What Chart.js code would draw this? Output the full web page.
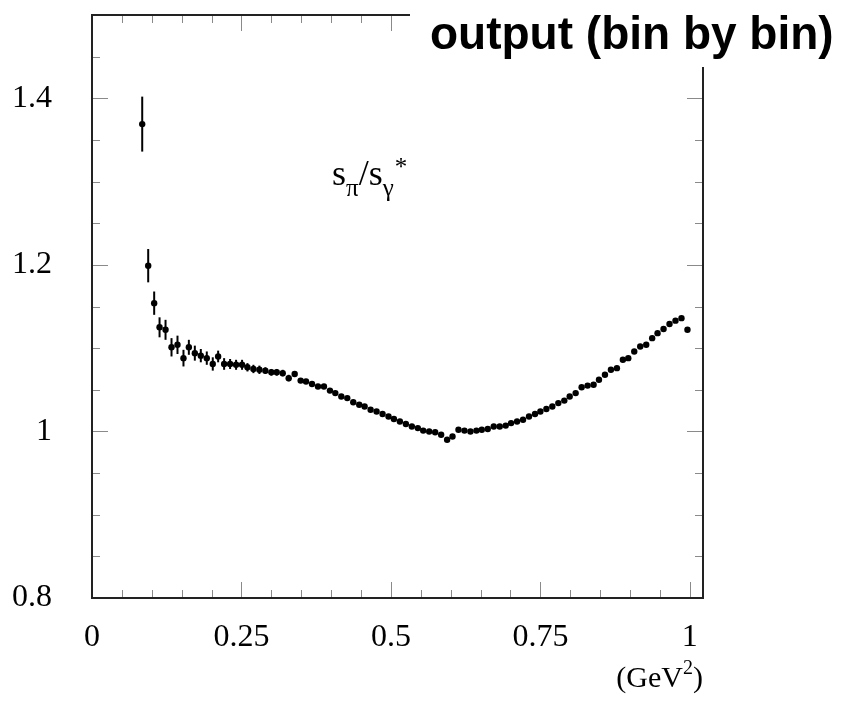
<!DOCTYPE html>
<html>
<head>
<meta charset="utf-8">
<script src="https://cdn.jsdelivr.net/npm/chart.js@4/dist/chart.umd.min.js"></script>
<style>
  html, body { margin: 0; padding: 0; background: #fff; }
  #wrap { width: 854px; height: 701px; }
</style>
</head>
<body>
<div id="wrap"><canvas id="c" width="854" height="701"></canvas></div>
<script>
// bin centres (GeV^2)
const xs = [
  0.084, 0.094, 0.104, 0.113, 0.123, 0.133, 0.143, 0.153, 0.162, 0.172,
  0.182, 0.192, 0.202, 0.211, 0.221, 0.231, 0.241, 0.251, 0.260, 0.270,
  0.280, 0.290, 0.300, 0.309, 0.319, 0.329, 0.339, 0.349, 0.358, 0.368,
  0.378, 0.388, 0.398, 0.407, 0.417, 0.427, 0.437, 0.447, 0.456, 0.466,
  0.476, 0.486, 0.496, 0.505, 0.515, 0.525, 0.535, 0.545, 0.554, 0.564,
  0.574, 0.584, 0.594, 0.603, 0.613, 0.623, 0.633, 0.643, 0.652, 0.662,
  0.672, 0.682, 0.692, 0.701, 0.711, 0.721, 0.731, 0.741, 0.750, 0.760,
  0.770, 0.780, 0.790, 0.799, 0.809, 0.819, 0.829, 0.839, 0.848, 0.858,
  0.868, 0.878, 0.888, 0.897, 0.907, 0.917, 0.927, 0.937, 0.946, 0.956,
  0.966, 0.976, 0.986, 0.996
];
// ratio s_pi / s_gamma*
const ratio = [
  1.369, 1.199, 1.154, 1.125, 1.122, 1.101, 1.104, 1.088, 1.101, 1.094,
  1.091, 1.088, 1.081, 1.090, 1.081, 1.081, 1.080, 1.080, 1.077, 1.075,
  1.074, 1.073, 1.071, 1.071, 1.070, 1.064, 1.069, 1.061, 1.060, 1.057,
  1.054, 1.054, 1.049, 1.046, 1.042, 1.040, 1.035, 1.032, 1.030, 1.026,
  1.024, 1.021, 1.018, 1.015, 1.012, 1.009, 1.006, 1.004, 1.001, 1.000,
  0.999, 0.996, 0.990, 0.994, 1.002, 1.001, 1.000, 1.001, 1.002, 1.003,
  1.006, 1.006, 1.007, 1.010, 1.012, 1.014, 1.018, 1.021, 1.024, 1.027,
  1.030, 1.034, 1.037, 1.042, 1.046, 1.053, 1.055, 1.056, 1.062, 1.068,
  1.074, 1.076, 1.086, 1.088, 1.096, 1.102, 1.104, 1.112, 1.118, 1.123,
  1.129, 1.133, 1.136, 1.122
];
// statistical errors
const errs = [
  0.033, 0.020, 0.014, 0.012, 0.012, 0.011, 0.011, 0.010, 0.009, 0.009,
  0.008, 0.008, 0.008, 0.007, 0.007, 0.006, 0.006, 0.006, 0.005, 0.005,
  0.005, 0.004, 0.004, 0.004, 0.004, 0.004, 0.003, 0.003, 0.003, 0.002,
  0.002, 0.002, 0.002, 0.002, 0.002, 0.002, 0.002, 0.002, 0.002, 0.002,
  0.002, 0.001, 0.001, 0.001, 0.001, 0.001, 0.001, 0.001, 0.001, 0.001,
  0.001, 0.001, 0.001, 0.001, 0.001, 0.001, 0.001, 0.001, 0.001, 0.001,
  0.001, 0.001, 0.001, 0.001, 0.001, 0.001, 0.001, 0.001, 0.001, 0.001,
  0.001, 0.001, 0.001, 0.001, 0.001, 0.001, 0.001, 0.001, 0.001, 0.001,
  0.001, 0.001, 0.001, 0.001, 0.001, 0.001, 0.001, 0.001, 0.001, 0.001,
  0.001, 0.001, 0.001, 0.001
];

const xTickValues = [0, 0.25, 0.5, 0.75, 1];
const xTickLabels = ['0', '0.25', '0.5', '0.75', '1'];
const yTickValues = [0.8, 1.0, 1.2, 1.4];
const yTickLabels = ['0.8', '1', '1.2', '1.4'];
const xMinor = [0, 0.05, 0.1, 0.15, 0.2, 0.25, 0.3, 0.35, 0.4, 0.45, 0.5, 0.55, 0.6, 0.65, 0.7, 0.75, 0.8, 0.85, 0.9, 0.95, 1];
const yMinor = [0.85, 0.9, 0.95, 1.0, 1.05, 1.1, 1.15, 1.2, 1.25, 1.3, 1.35, 1.4, 1.45];

const titleText = 'output (bin by bin)';
const unitText = 'GeV';

const serif = '"Liberation Serif", "Times New Roman", serif';
const sans = '"Liberation Sans", Arial, Helvetica, sans-serif';

const points = xs.map((x, i) => ({ x: x, y: ratio[i] }));

// vertical error bars, drawn under the markers
const errorBars = {
  id: 'errorBars',
  beforeDatasetsDraw(chart) {
    const { ctx, scales: { x, y } } = chart;
    ctx.save();
    ctx.strokeStyle = '#000';
    ctx.lineWidth = 2;
    xs.forEach((v, i) => {
      const px = x.getPixelForValue(v);
      ctx.beginPath();
      ctx.moveTo(px, y.getPixelForValue(ratio[i] - errs[i]));
      ctx.lineTo(px, y.getPixelForValue(ratio[i] + errs[i]));
      ctx.stroke();
    });
    ctx.restore();
  }
};

// ROOT style frame with inward ticks, title box and text
const frame = {
  id: 'frame',
  afterDraw(chart) {
    const { ctx, chartArea: a, scales: { x, y } } = chart;
    ctx.save();
    // ticks
    ctx.strokeStyle = '#8a8a8a';
    ctx.lineWidth = 1;
    xMinor.forEach(v => {
      const px = Math.round(x.getPixelForValue(v)) + 0.5;
      const len = (Math.abs(v * 4 - Math.round(v * 4)) < 1e-6) ? 16 : 8;
      ctx.beginPath();
      ctx.moveTo(px, a.bottom); ctx.lineTo(px, a.bottom - len);
      ctx.moveTo(px, a.top); ctx.lineTo(px, a.top + len);
      ctx.stroke();
    });
    yMinor.forEach(v => {
      const py = Math.round(y.getPixelForValue(v)) + 0.5;
      const len = (Math.abs(v * 5 - Math.round(v * 5)) < 1e-6) ? 16 : 8;
      ctx.beginPath();
      ctx.moveTo(a.left, py); ctx.lineTo(a.left + len, py);
      ctx.moveTo(a.right, py); ctx.lineTo(a.right - len, py);
      ctx.stroke();
    });
    // frame
    ctx.strokeStyle = '#222';
    ctx.lineWidth = 2;
    ctx.strokeRect(a.left, a.top, a.right - a.left, a.bottom - a.top);

    // title pave
    ctx.fillStyle = '#fff';
    ctx.fillRect(410, 0, chart.width - 410, 67);
    ctx.fillStyle = '#000';
    ctx.font = 'bold 46px ' + sans;
    ctx.textBaseline = 'alphabetic';
    ctx.textAlign = 'left';
    ctx.fillText(titleText, 430, 49);

    // s_pi / s_gamma*
    let cx = 332;
    const base = 185;
    ctx.font = '36px ' + serif;
    ctx.fillText('s', cx, base); cx += ctx.measureText('s').width;
    ctx.font = '25px ' + serif;
    ctx.fillText('\u03c0', cx, base + 11); cx += ctx.measureText('\u03c0').width;
    ctx.font = '36px ' + serif;
    ctx.fillText('/s', cx, base); cx += ctx.measureText('/s').width;
    ctx.font = '25px ' + serif;
    ctx.fillText('\u03b3', cx, base + 11); cx += ctx.measureText('\u03b3').width;
    ctx.fillText('*', cx + 1, base - 10);

    // unit label (GeV^2), right aligned on the axis end
    const ub = 687;
    ctx.font = '30px ' + serif;
    const w1 = ctx.measureText('(' + unitText).width;
    const w3 = ctx.measureText(')').width;
    ctx.font = '20px ' + serif;
    const w2 = ctx.measureText('2').width;
    let ux = a.right - (w1 + w2 + w3);
    ctx.font = '30px ' + serif;
    ctx.fillText('(' + unitText, ux, ub); ux += w1;
    ctx.font = '20px ' + serif;
    ctx.fillText('2', ux, ub - 13); ux += w2;
    ctx.font = '30px ' + serif;
    ctx.fillText(')', ux, ub);
    ctx.restore();
  }
};

new Chart(document.getElementById('c'), {
  type: 'scatter',
  data: {
    datasets: [{
      data: points,
      pointRadius: 3.2,
      pointHoverRadius: 3.2,
      pointBackgroundColor: '#000',
      pointBorderWidth: 0,
      showLine: false
    }]
  },
  options: {
    responsive: false,
    animation: false,
    devicePixelRatio: 1,
    layout: { padding: { left: 0, top: 15, right: 151, bottom: 0 } },
    plugins: { legend: { display: false }, tooltip: { enabled: false }, title: { display: false } },
    scales: {
      x: {
        type: 'linear',
        min: 0,
        max: 1.022,
        afterBuildTicks: s => { s.ticks = xTickValues.map(v => ({ value: v })); },
        afterFit: s => { s.height = 103; s.paddingLeft = 0; s.paddingRight = 0; },
        grid: { display: false, drawTicks: false },
        border: { display: false },
        ticks: {
          color: '#000',
          padding: 20,
          maxRotation: 0,
          autoSkip: false,
          font: { family: serif, size: 32 },
          callback: (v, i) => xTickLabels[i]
        }
      },
      y: {
        type: 'linear',
        min: 0.8,
        max: 1.5,
        afterBuildTicks: s => { s.ticks = yTickValues.map(v => ({ value: v })); },
        afterFit: s => { s.width = 92; s.paddingTop = 0; s.paddingBottom = 0; },
        grid: { display: false, drawTicks: false },
        border: { display: false },
        ticks: {
          color: '#000',
          padding: 40,
          autoSkip: false,
          font: { family: serif, size: 32 },
          callback: (v, i) => yTickLabels[i]
        }
      }
    }
  },
  plugins: [errorBars, frame]
});
</script>
</body>
</html>
